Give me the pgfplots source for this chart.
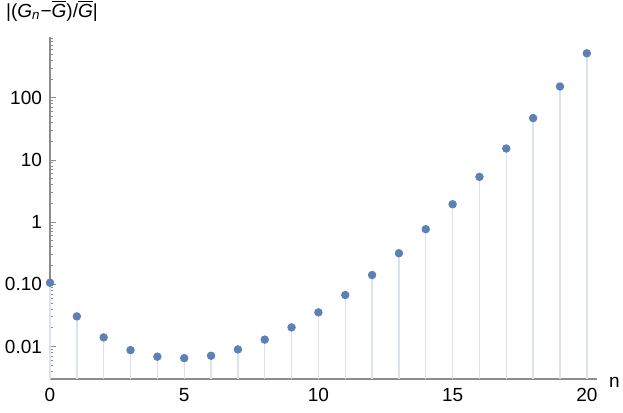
\documentclass[border=0pt]{standalone}
\usepackage{pgfplots}
\pgfplotsset{compat=1.18}
\usepackage{pgfplotstable}
\usepackage{fontspec}
\setmainfont{Liberation Sans}
\usetikzlibrary{calc}

\definecolor{mblue}{rgb}{0.368417,0.506779,0.709798}
\definecolor{mfill}{HTML}{DCE3EF}
\definecolor{axgray}{HTML}{8C8C8C}

% relative deviation per order n
\pgfplotstableread{
n   val
0   0.106
1   0.0305
2   0.0140
3   0.00875
4   0.00686
5   0.00650
6   0.00710
7   0.00898
8   0.0129
9   0.0203
10  0.0354
11  0.0673
12  0.141
13  0.316
14  0.77
15  1.94
16  5.35
17  15.3
18  47.1
19  152
20  519
}\gdata

\begin{document}
\begin{tikzpicture}
\begin{axis}[
    scale only axis,
    width=273.5pt,
    height=171pt,
    ymode=log,
    log origin y=infty,
    xmin=0, xmax=20.38,
    ymin=0.003, ymax=950,
    axis lines=left,
    axis line style={-, axgray, line width=0.55pt},
    clip=false,
    tick align=inside,
    tick style={axgray, line width=0.45pt},
    major tick length=3pt,
    minor tick length=1.6pt,
    xtick={0,...,20},
    xticklabels={0,,,,,5,,,,,10,,,,,15,,,,,20},
    ytick={0.01,0.1,1,10,100},
    yticklabels={0.01,0.10,1,10,100},
    minor ytick={0.003,0.004,0.005,0.006,0.007,0.008,0.009,
        0.02,0.03,0.04,0.05,0.06,0.07,0.08,0.09,
        0.2,0.3,0.4,0.5,0.6,0.7,0.8,0.9,
        2,3,4,5,6,7,8,9,20,30,40,50,60,70,80,90,
        200,300,400,500,600,700,800,900},
    tick label style={font=\fontsize{9.5}{11}\selectfont, black},
    xticklabel style={yshift=-1pt},
    yticklabel style={xshift=-0.5pt},
    xlabel={n},
    xlabel style={at={(axis description cs:1,0)}, anchor=west, xshift=2.5pt, yshift=-1.5pt,
        font=\fontsize{9.5}{11}\selectfont},
    ylabel={|(\textit{G}\textsubscript{\textit{n}}\char"2212$\overline{\mbox{\textit{G}}}$)/$\overline{\mbox{\textit{G}}}$|},
    ylabel style={rotate=-90, at={(axis description cs:0,1)}, anchor=south, xshift=1pt, yshift=4pt,
        font=\fontsize{9.5}{11}\selectfont},
]
\addplot[ycomb, mfill, line width=0.7pt, no marks] table[x=n, y=val] {\gdata};
\addplot[only marks, mark=*, mark size=1.9pt, mblue, mark options={draw=mblue}] table[x=n, y=val] {\gdata};
\end{axis}
\pgfresetboundingbox
\path ($(current axis.south west)+(-25pt,-16.5pt)$) rectangle ($(current axis.north east)+(13pt,18.5pt)$);
\end{tikzpicture}
\end{document}
